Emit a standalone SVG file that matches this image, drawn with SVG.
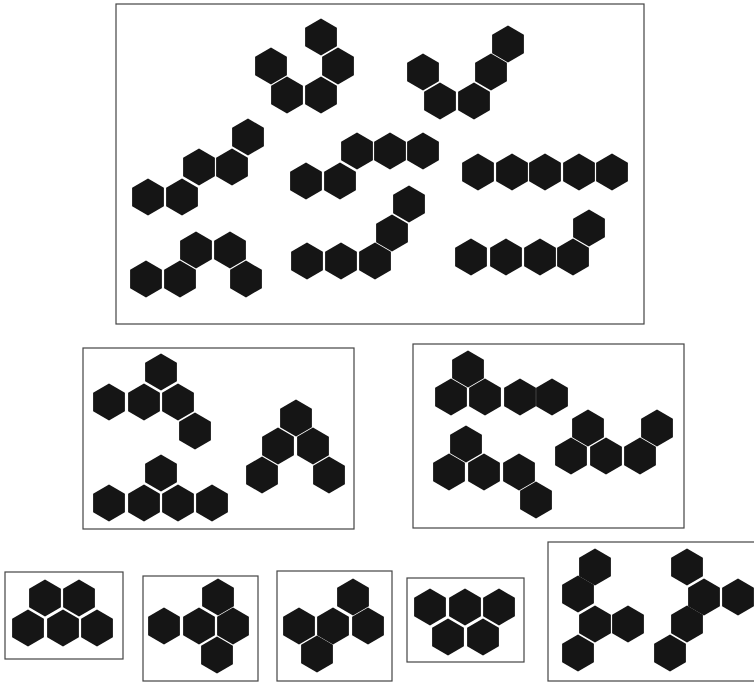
<svg xmlns="http://www.w3.org/2000/svg" xmlns:xlink="http://www.w3.org/1999/xlink" width="754" height="683" viewBox="0 0 754 683">
<style>
.box{fill:#fff;stroke:#444;stroke-width:1.2}
.h{fill:#151515}
</style>
<defs>
<polygon id="hx" points="0,-18.4 15.9,-9.2 15.9,9.2 0,18.4 -15.9,9.2 -15.9,-9.2"/>
</defs>
<rect width="754" height="683" fill="#fff"/>
<g id="frames">
<rect class="box" x="116" y="4" width="528" height="320"/>
<rect class="box" x="83" y="348" width="271" height="181"/>
<rect class="box" x="413" y="344" width="271" height="184"/>
<rect class="box" x="5" y="572" width="118" height="87"/>
<rect class="box" x="143" y="576" width="115" height="105"/>
<rect class="box" x="277" y="571" width="115" height="110"/>
<rect class="box" x="407" y="578" width="117" height="84"/>
<rect class="box" x="548" y="542" width="210" height="139"/>
</g>
<g id="shapeA" class="h">
<use xlink:href="#hx" x="321" y="37"/><use xlink:href="#hx" x="271" y="66"/><use xlink:href="#hx" x="338" y="66"/><use xlink:href="#hx" x="287" y="95"/><use xlink:href="#hx" x="321" y="95"/>
</g>
<g id="shapeB" class="h">
<use xlink:href="#hx" x="508" y="44"/><use xlink:href="#hx" x="423" y="72"/><use xlink:href="#hx" x="491" y="72"/><use xlink:href="#hx" x="440" y="101"/><use xlink:href="#hx" x="474" y="101"/>
</g>
<g id="shapeC" class="h">
<use xlink:href="#hx" x="248" y="137"/><use xlink:href="#hx" x="199" y="167"/><use xlink:href="#hx" x="232" y="167"/><use xlink:href="#hx" x="148" y="197"/><use xlink:href="#hx" x="182" y="197"/>
</g>
<g id="shapeD" class="h">
<use xlink:href="#hx" x="357" y="151"/><use xlink:href="#hx" x="390" y="151"/><use xlink:href="#hx" x="423" y="151"/><use xlink:href="#hx" x="306" y="181"/><use xlink:href="#hx" x="340" y="181"/>
</g>
<g id="shapeE" class="h">
<use xlink:href="#hx" x="478" y="172"/><use xlink:href="#hx" x="512" y="172"/><use xlink:href="#hx" x="545" y="172"/><use xlink:href="#hx" x="579" y="172"/><use xlink:href="#hx" x="612" y="172"/>
</g>
<g id="shapeF" class="h">
<use xlink:href="#hx" x="196" y="250"/><use xlink:href="#hx" x="230" y="250"/><use xlink:href="#hx" x="146" y="279"/><use xlink:href="#hx" x="180" y="279"/><use xlink:href="#hx" x="246" y="279"/>
</g>
<g id="shapeG" class="h">
<use xlink:href="#hx" x="409" y="204"/><use xlink:href="#hx" x="392" y="233"/><use xlink:href="#hx" x="307" y="261"/><use xlink:href="#hx" x="341" y="261"/><use xlink:href="#hx" x="375" y="261"/>
</g>
<g id="shapeH" class="h">
<use xlink:href="#hx" x="589" y="228"/><use xlink:href="#hx" x="471" y="257"/><use xlink:href="#hx" x="506" y="257"/><use xlink:href="#hx" x="540" y="257"/><use xlink:href="#hx" x="573" y="257"/>
</g>
<g id="shapeI" class="h">
<use xlink:href="#hx" x="161" y="372"/><use xlink:href="#hx" x="109" y="402"/><use xlink:href="#hx" x="144" y="402"/><use xlink:href="#hx" x="178" y="402"/><use xlink:href="#hx" x="195" y="431"/>
</g>
<g id="shapeJ" class="h">
<use xlink:href="#hx" x="296" y="418"/><use xlink:href="#hx" x="278" y="446"/><use xlink:href="#hx" x="313" y="446"/><use xlink:href="#hx" x="262" y="475"/><use xlink:href="#hx" x="329" y="475"/>
</g>
<g id="shapeK" class="h">
<use xlink:href="#hx" x="161" y="473"/><use xlink:href="#hx" x="109" y="503"/><use xlink:href="#hx" x="144" y="503"/><use xlink:href="#hx" x="178" y="503"/><use xlink:href="#hx" x="212" y="503"/>
</g>
<g id="shapeL" class="h">
<use xlink:href="#hx" x="468" y="369"/><use xlink:href="#hx" x="451" y="397"/><use xlink:href="#hx" x="485" y="397"/><use xlink:href="#hx" x="520" y="397"/><use xlink:href="#hx" x="552" y="397"/>
</g>
<g id="shapeM" class="h">
<use xlink:href="#hx" x="466" y="444"/><use xlink:href="#hx" x="449" y="472"/><use xlink:href="#hx" x="484" y="472"/><use xlink:href="#hx" x="519" y="472"/><use xlink:href="#hx" x="536" y="500"/>
</g>
<g id="shapeN" class="h">
<use xlink:href="#hx" x="588" y="428"/><use xlink:href="#hx" x="657" y="428"/><use xlink:href="#hx" x="571" y="456"/><use xlink:href="#hx" x="606" y="456"/><use xlink:href="#hx" x="640" y="456"/>
</g>
<g id="shapeO" class="h">
<use xlink:href="#hx" x="45" y="598"/><use xlink:href="#hx" x="79" y="598"/><use xlink:href="#hx" x="28" y="628"/><use xlink:href="#hx" x="63" y="628"/><use xlink:href="#hx" x="97" y="628"/>
</g>
<g id="shapeP" class="h">
<use xlink:href="#hx" x="218" y="597"/><use xlink:href="#hx" x="164" y="626"/><use xlink:href="#hx" x="199" y="626"/><use xlink:href="#hx" x="233" y="626"/><use xlink:href="#hx" x="217" y="655"/>
</g>
<g id="shapeQ" class="h">
<use xlink:href="#hx" x="353" y="597"/><use xlink:href="#hx" x="299" y="626"/><use xlink:href="#hx" x="333" y="626"/><use xlink:href="#hx" x="368" y="626"/><use xlink:href="#hx" x="317" y="654"/>
</g>
<g id="shapeR" class="h">
<use xlink:href="#hx" x="430" y="607"/><use xlink:href="#hx" x="465" y="607"/><use xlink:href="#hx" x="499" y="607"/><use xlink:href="#hx" x="448" y="637"/><use xlink:href="#hx" x="483" y="637"/>
</g>
<g id="shapeS" class="h">
<use xlink:href="#hx" x="595" y="567"/><use xlink:href="#hx" x="578" y="594"/><use xlink:href="#hx" x="595" y="624"/><use xlink:href="#hx" x="628" y="624"/><use xlink:href="#hx" x="578" y="653"/>
</g>
<g id="shapeT" class="h">
<use xlink:href="#hx" x="687" y="567"/><use xlink:href="#hx" x="704" y="597"/><use xlink:href="#hx" x="738" y="597"/><use xlink:href="#hx" x="687" y="624"/><use xlink:href="#hx" x="670" y="653"/>
</g>
<g id="connectors"/>
</svg>
